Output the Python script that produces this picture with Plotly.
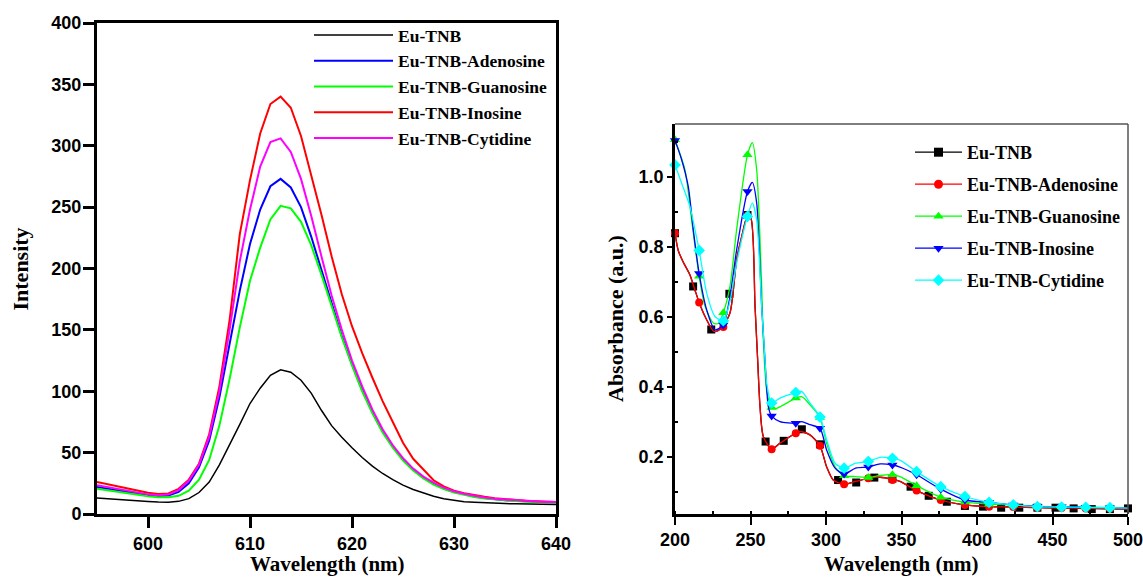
import plotly.graph_objects as go

W, H = 1143, 577

# ---------------- Left panel: emission spectra ----------------
wl_em = list(range(595, 641))
em_tnb = [13, 12.3, 11.7, 11.1, 10.6, 10.1, 9.7, 9.6, 10.3, 12.5, 17.5, 26, 40, 56, 73, 90, 102.5, 113, 117.5, 115.5,
          109, 98.5, 84.5, 72, 62.5, 54, 46, 39, 33, 28, 23.5, 20, 17, 14.5, 12.5, 11, 10, 9.5, 9, 8.7,
          8.5, 8.3, 8.1, 8, 7.8, 7.7]
em_ade = [22, 20.6, 19.2, 17.8, 16.5, 15.3, 14.6, 15, 18, 25, 38, 60, 95, 138, 182, 220, 248, 267, 273, 266,
          250, 226, 199, 171, 145, 122, 101, 83, 67.5, 55, 44.5, 36, 29.5, 24.5, 20.8, 18, 16, 14.3, 13, 12,
          11.3, 10.8, 10.3, 9.9, 9.6, 9.4]
em_gua = [20.5, 19.2, 17.9, 16.6, 15.4, 14.4, 13.7, 13.6, 14.8, 19, 28, 44, 72, 110, 152, 190, 217, 240, 251, 249,
          238, 219, 195, 169, 144, 121, 100, 82, 66.5, 54, 43.5, 35.5, 29, 24, 20.3, 17.5, 15.5, 13.9, 12.7, 11.8,
          11.1, 10.6, 10.1, 9.7, 9.4, 9.2]
em_ino = [26, 24.3, 22.5, 20.7, 18.9, 17.3, 16.3, 16.8, 20.5, 28, 41, 65, 104, 158, 228, 272, 310, 334, 340, 331,
          308, 277, 244, 210, 179, 153, 131, 111, 92, 75, 58, 45, 36, 27.5, 22.5, 19, 17, 15.3, 14, 12.8,
          12, 11.3, 10.8, 10.4, 10, 9.8]
em_cyt = [23.5, 22, 20.5, 19, 17.5, 16, 15.2, 15.8, 19.5, 27, 40, 63, 100, 150, 206, 248, 283, 303, 306, 295,
          273, 243, 210, 178, 150, 125, 104, 85, 69, 56, 45.5, 37, 30.5, 25.5, 21.5, 18.5, 16.5, 14.8, 13.5, 12.5,
          11.8, 11.2, 10.7, 10.3, 10, 9.7]

em_names = ["Eu-TNB", "Eu-TNB-Adenosine", "Eu-TNB-Guanosine", "Eu-TNB-Inosine", "Eu-TNB-Cytidine"]
em_colors = ["#000000", "#0000FF", "#00FF00", "#FF0000", "#FF00FF"]
em_series = [em_tnb, em_ade, em_gua, em_ino, em_cyt]
em_xticks = [600, 610, 620, 630, 640]
em_yticks = [0, 50, 100, 150, 200, 250, 300, 350, 400]

# ---------------- Right panel: UV-vis absorption ----------------
ab_names = ["Eu-TNB", "Eu-TNB-Adenosine", "Eu-TNB-Guanosine", "Eu-TNB-Inosine", "Eu-TNB-Cytidine"]
ab_colors = ["#000000", "#FF0000", "#00FF00", "#0000FF", "#00FFFF"]
ab_symbols = ["square", "circle", "triangle-up", "triangle-down", "diamond"]
ab_xticks = [200, 250, 300, 350, 400, 450, 500]
ab_yticks = [0.2, 0.4, 0.6, 0.8, 1.0]

# smooth curves
ade_line_x = [200, 202.2, 205.5, 209.9, 213.2, 216, 219.9, 226, 230.9, 236.4, 240.8, 244.2, 248, 250.3, 253, 254.7,
              256.3, 258.5, 264, 269.5, 280, 283.9, 289.4, 296, 300.4, 304.8, 312, 319.6, 328, 335.8, 344, 349,
              360, 376, 392, 408, 424, 440, 456, 472, 488, 500]
ade_line_y = [0.838, 0.788, 0.755, 0.719, 0.676, 0.64, 0.60, 0.557, 0.567, 0.61, 0.762, 0.829, 0.887, 0.88, 0.63, 0.48,
              0.343, 0.257, 0.221, 0.238, 0.267, 0.271, 0.262, 0.231, 0.171, 0.133, 0.121, 0.129, 0.138, 0.141, 0.135,
              0.129, 0.103, 0.076, 0.062, 0.057, 0.056, 0.054, 0.053, 0.052, 0.051, 0.050]
# the Eu-TNB curve runs underneath the Adenosine curve
tnb_line_x = ade_line_x
tnb_line_y = ade_line_y
gua_line_x = [200, 206.6, 211, 216, 219.9, 225.5, 228.7, 232, 236.4, 240.8, 248, 251.2, 254.1, 257.4, 258.5, 260.7,
              264, 267.3, 280, 283.9, 289.4, 296, 300.4, 306, 312, 319.6, 328, 335.8, 344, 349, 360, 376, 392, 408,
              424, 440, 456, 472, 488, 500]
gua_line_y = [1.105, 1.019, 0.876, 0.715, 0.629, 0.581, 0.58, 0.611, 0.686, 0.848, 1.062, 1.097, 1.019, 0.686, 0.533,
              0.39, 0.34, 0.338, 0.367, 0.371, 0.348, 0.312, 0.238, 0.171, 0.145, 0.143, 0.14, 0.146, 0.148, 0.143,
              0.117, 0.084, 0.07, 0.064, 0.062, 0.058, 0.056, 0.055, 0.054, 0.053]
ino_line_x = [200, 204.4, 208.8, 212.1, 216, 221, 226.5, 232, 236.4, 240.8, 248, 251.2, 254.1, 257.4, 259.6, 261.8,
              264, 269.5, 280, 283.9, 289.4, 296, 300.4, 306, 312, 319.6, 328, 335.8, 344, 349, 360, 376, 392, 408,
              424, 440, 456, 472, 488, 500]
ino_line_y = [1.103, 1.048, 0.971, 0.848, 0.723, 0.619, 0.562, 0.576, 0.657, 0.79, 0.957, 0.983, 0.924, 0.629, 0.476,
              0.343, 0.316, 0.30, 0.295, 0.30, 0.291, 0.281, 0.219, 0.167, 0.15, 0.167, 0.17, 0.179, 0.176, 0.17,
              0.148, 0.107, 0.076, 0.069, 0.062, 0.058, 0.057, 0.055, 0.054, 0.053]
cyt_line_x = [200, 204.4, 209.9, 213.2, 216, 221, 226.5, 232, 236.4, 240.8, 248, 251.2, 254.1, 257.4, 259.6, 260.7,
              264, 269.5, 280, 283.9, 289.4, 296, 300.4, 306, 312, 319.6, 328, 335.8, 344, 349, 360, 376, 392, 408,
              424, 440, 456, 472, 488, 500]
cyt_line_y = [1.033, 0.981, 0.914, 0.848, 0.789, 0.667, 0.60, 0.588, 0.643, 0.752, 0.886, 0.924, 0.876, 0.629, 0.476,
              0.41, 0.353, 0.367, 0.383, 0.386, 0.353, 0.313, 0.248, 0.181, 0.167, 0.181, 0.186, 0.198, 0.195, 0.19,
              0.157, 0.114, 0.086, 0.069, 0.062, 0.057, 0.056, 0.055, 0.054, 0.053]

# marker points
tnb_mk_x = list(range(200, 501, 12))
tnb_mk_y = [0.838, 0.686, 0.563, 0.665, 0.89, 0.243, 0.245, 0.278, 0.235, 0.133, 0.126, 0.140, 0.137,
            0.114, 0.088, 0.071, 0.059, 0.057, 0.054, 0.054, 0.054, 0.054, 0.052, 0.050, 0.050, 0.052]
mk_x = list(range(200, 489, 16))
ade_mk_y = [0.838, 0.64, 0.57, 0.888, 0.221, 0.267, 0.231, 0.121, 0.138, 0.133, 0.103, 0.076, 0.062, 0.057,
            0.056, 0.054, 0.053, 0.052, 0.051]
gua_mk_y = [1.105, 0.715, 0.611, 1.062, 0.34, 0.367, 0.312, 0.145, 0.14, 0.148, 0.117, 0.084, 0.07, 0.064,
            0.062, 0.058, 0.056, 0.055, 0.054]
ino_mk_y = [1.103, 0.723, 0.576, 0.957, 0.316, 0.295, 0.281, 0.15, 0.17, 0.176, 0.148, 0.107, 0.076, 0.069,
            0.062, 0.058, 0.057, 0.055, 0.054]
cyt_mk_y = [1.033, 0.789, 0.588, 0.886, 0.353, 0.383, 0.313, 0.167, 0.186, 0.195, 0.157, 0.114, 0.086, 0.069,
            0.062, 0.057, 0.056, 0.055, 0.054]

ab_lines = [(tnb_line_x, tnb_line_y), (ade_line_x, ade_line_y), (gua_line_x, gua_line_y),
            (ino_line_x, ino_line_y), (cyt_line_x, cyt_line_y)]
ab_marks = [(tnb_mk_x, tnb_mk_y), (mk_x, ade_mk_y), (mk_x, gua_mk_y), (mk_x, ino_mk_y), (mk_x, cyt_mk_y)]

SERIF = "Liberation Serif"
SANS = "Liberation Sans"

fig = go.Figure()

for name, col, ys in zip(em_names, em_colors, em_series):
    fig.add_trace(go.Scatter(x=wl_em, y=ys, mode="lines", name=name, xaxis="x", yaxis="y",
                             line=dict(color=col, width=1.5 if col == "#000000" else 2),
                             legend="legend"))

for i, (name, col, sym) in enumerate(zip(ab_names, ab_colors, ab_symbols)):
    lx, ly = ab_lines[i]
    mx, my = ab_marks[i]
    fig.add_trace(go.Scatter(x=lx, y=ly, mode="lines", xaxis="x2", yaxis="y2", showlegend=False,
                             line=dict(color=col, width=1.3, shape="spline", smoothing=0.7),
                             legendgroup=name + "_ab"))
    fig.add_trace(go.Scatter(x=mx, y=my, mode="markers", xaxis="x2", yaxis="y2", showlegend=False,
                             marker=dict(color=col, symbol=sym, size=8 if sym in ("square", "circle") else 9),
                             cliponaxis=False, legendgroup=name + "_ab"))
    fig.add_trace(go.Scatter(x=[None], y=[None], mode="lines+markers", name=name, xaxis="x2", yaxis="y2",
                             line=dict(color=col, width=1.3),
                             marker=dict(color=col, symbol=sym, size=9),
                             legend="legend2", legendgroup=name + "_ab"))

tickfont = dict(family=SANS, size=18, color="black", weight="bold")
titlefont = dict(family=SERIF, size=22, color="black", weight="bold")
xtitlefont = dict(family=SERIF, size=21, color="black", weight="bold")

fig.update_layout(
    width=W, height=H, margin=dict(l=0, r=0, t=0, b=0, autoexpand=False),
    paper_bgcolor="white", plot_bgcolor="white", showlegend=True,
    xaxis=dict(domain=[97 / W, 556 / W], range=[595, 640], tickvals=em_xticks,
               ticks="outside", ticklen=11, tickwidth=2.5, tickcolor="black",
               showline=True, linewidth=3, linecolor="black", mirror=True, automargin=False,
               ticklabeloverflow="allow",
               showgrid=False, zeroline=False, tickfont=tickfont, anchor="y"),
    yaxis=dict(domain=[1 - 514 / H, 1 - 23 / H], range=[0, 400], tickvals=em_yticks,
               ticks="outside", ticklen=11, tickwidth=2.5, tickcolor="black", ticklabelstandoff=-2,
               showline=True, linewidth=3, linecolor="black", mirror=True, automargin=False,
               ticklabeloverflow="allow",
               showgrid=False, zeroline=False, tickfont=tickfont, anchor="x"),
    xaxis2=dict(domain=[675 / W, 1128 / W], range=[200, 500], tickvals=ab_xticks,
                ticks="outside", ticklen=8, tickwidth=2, tickcolor="black",
                minor=dict(ticks="inside", ticklen=3, dtick=25, tick0=200, tickwidth=1.5, tickcolor="black"),
                showline=True, linewidth=2.5, linecolor="black", automargin=False,
                ticklabeloverflow="allow",
                showgrid=False, zeroline=False, tickfont=tickfont, anchor="y2"),
    yaxis2=dict(domain=[1 - 514 / H, 1 - 124 / H], range=[0.036, 1.15],
                tickvals=ab_yticks, tickformat=".1f",
                ticks="outside", ticklen=5, tickwidth=2, tickcolor="black",
                minor=dict(ticks="inside", ticklen=3, tickvals=[0.1, 0.3, 0.5, 0.7, 0.9, 1.1],
                           tickwidth=1.5, tickcolor="black"),
                showline=True, linewidth=2.5, linecolor="black", automargin=False,
                ticklabeloverflow="allow",
                showgrid=False, zeroline=False, tickfont=tickfont, anchor="x2"),
    legend=dict(x=309 / W, y=1 - 17 / H, xanchor="left", yanchor="top", bgcolor="rgba(0,0,0,0)",
                font=dict(family=SERIF, size=17.5, color="black", weight="bold"),
                itemwidth=79, tracegroupgap=0),
    legend2=dict(x=910 / W, y=1 - 134 / H, xanchor="left", yanchor="top", bgcolor="rgba(0,0,0,0)",
                 font=dict(family=SERIF, size=18, color="black", weight="bold"),
                 itemwidth=47, tracegroupgap=5.6),
    shapes=[
        dict(type="line", xref="x2 domain", yref="y2 domain", x0=0, x1=1, y0=1, y1=1,
             line=dict(color="#555555", width=1.5)),
        dict(type="line", xref="x2 domain", yref="y2 domain", x0=1, x1=1, y0=0, y1=1,
             line=dict(color="#555555", width=1.5)),
    ],
    annotations=[
        dict(text="Intensity", x=19.5 / W, y=1 - 269 / H, xref="paper", yref="paper", showarrow=False,
             xanchor="center", yanchor="middle", textangle=-90, font=titlefont),
        dict(text="Wavelength (nm)", x=327 / W, y=1 - 564 / H, xref="paper", yref="paper", showarrow=False,
             xanchor="center", yanchor="middle", font=xtitlefont, borderpad=0),
        dict(text="Absorbance (a.u.)", x=615 / W, y=1 - 319 / H, xref="paper", yref="paper", showarrow=False,
             xanchor="center", yanchor="middle", textangle=-90, font=titlefont),
        dict(text="Wavelength (nm)", x=901.5 / W, y=1 - 564 / H, xref="paper", yref="paper", showarrow=False,
             xanchor="center", yanchor="middle", font=xtitlefont, borderpad=0),
    ],
)

fig.write_html("out.html")
